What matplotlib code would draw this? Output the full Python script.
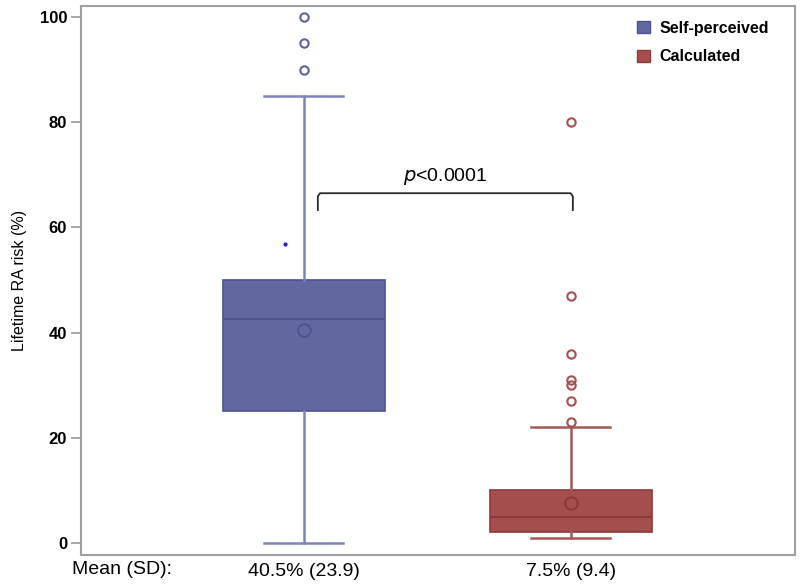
import matplotlib
matplotlib.use('Agg')
import matplotlib.pyplot as plt
from matplotlib.patches import Patch

plt.rcParams['font.family'] = ['Liberation Sans', 'DejaVu Sans']

# data
groups = ['Self-perceived', 'Calculated']
means_text = ['40.5% (23.9)', '7.5% (9.4)']
q1 = [25, 2]
med = [42.5, 5]
q3 = [50, 10]
wlo = [0, 1]
whi = [85, 22]
mean = [40.5, 7.5]
fliers = [[90, 95, 100], [23, 27, 30, 31, 36, 47, 80]]
stray_dot = (0.93, 56.8)

fill = ['#63679f', '#a44f4d']
edge = ['#4e5294', '#8a3a39']
whisk = ['#7f83bb', '#a55856']
flier_col = ['#5d61a3', '#a2524f']

fig = plt.figure(figsize=(8, 5.85), dpi=100)
ax = fig.add_axes([0.10125, 0.0513, 0.8925, 0.9384])

for i in range(2):
    st = dict(q1=q1[i], med=med[i], q3=q3[i], whislo=wlo[i], whishi=whi[i],
              mean=mean[i], fliers=fliers[i])
    ax.bxp([st], positions=[i + 1], widths=0.607, showmeans=True, meanline=False,
           patch_artist=True,
           boxprops=dict(facecolor=fill[i], edgecolor=edge[i], linewidth=1.2),
           medianprops=dict(color=edge[i], linewidth=1.5),
           whiskerprops=dict(color=whisk[i], linewidth=1.8),
           capprops=dict(color=whisk[i], linewidth=1.8),
           capwidths=0.296,
           flierprops=dict(marker='o', markerfacecolor='none', markeredgecolor=flier_col[i],
                           markersize=6, markeredgewidth=1.5),
           meanprops=dict(marker='o', markerfacecolor='none', markeredgecolor=edge[i],
                          markersize=9, markeredgewidth=1.3))

ax.plot([stray_dot[0]], [stray_dot[1]], marker='o', color='#2020e0', markersize=2)

# significance bracket
bx = [1.052, 1.052, 1.06, 1.999, 2.007, 2.007]
by = [63.3, 65.9, 66.5, 66.5, 65.9, 63.3]
ax.plot(bx, by, color='#2a2a2a', linewidth=1.3)
ax.text(1.53, 67.6, r'$\it{p}$<0.0001', ha='center', va='bottom', fontsize=14)

ax.set_xlim(0.165, 2.839)
ax.set_ylim(-2.3, 102.1)
ax.set_yticks([0, 20, 40, 60, 80, 100])
ax.set_yticklabels(['0', '20', '40', '60', '80', '100'], fontweight='bold', fontsize=12)
ax.set_xticks([1, 2])
ax.set_xticklabels(means_text, fontsize=14)
ax.tick_params(axis='x', length=0, pad=6)
ax.tick_params(axis='y', length=7, width=1.3, color='#a0a0a0', pad=3)
for s in ax.spines.values():
    s.set_color('#a0a0a0')
    s.set_linewidth(1.5)

ax.set_ylabel('Lifetime RA risk (%)', fontsize=11.5, labelpad=9)
fig.text(0.09, 0.026, 'Mean (SD):', fontsize=14, va='center', ha='left')

handles = [Patch(facecolor=fill[i], edgecolor=edge[i], label=groups[i]) for i in range(2)]
leg = ax.legend(handles=handles, loc='upper right', bbox_to_anchor=(0.972, 0.985),
                frameon=False, borderaxespad=0,
                handlelength=0.8, handleheight=0.8, handletextpad=0.6,
                labelspacing=0.85,
                prop=dict(weight='bold', size=11.5))

fig.savefig('out.png', dpi=100)
